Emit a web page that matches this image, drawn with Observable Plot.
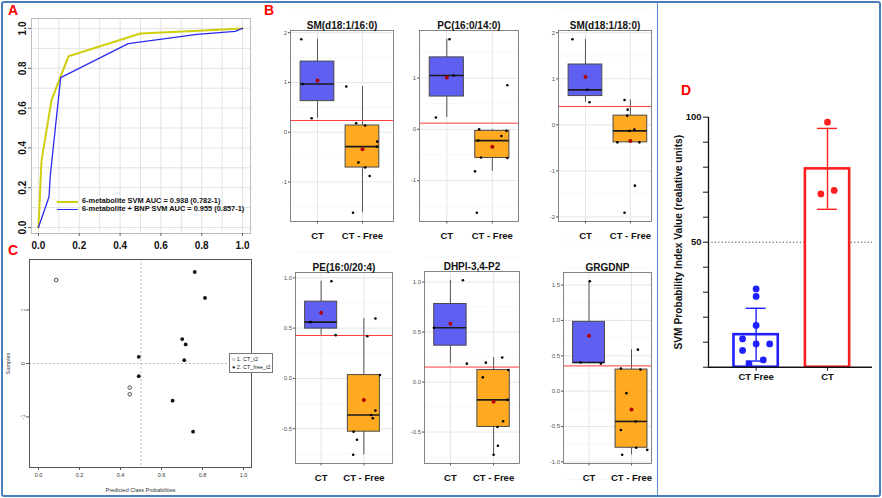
<!DOCTYPE html>
<html><head><meta charset="utf-8">
<script src="https://cdn.jsdelivr.net/npm/d3@7"></script>
<script src="https://cdn.jsdelivr.net/npm/@observablehq/plot@0.6"></script>
<style>
body{margin:0;background:#fff;font-family:"Liberation Sans",Arial,sans-serif;}
#fig{position:relative;width:882px;height:498px;overflow:hidden;background:#fff;}
.plbl{position:absolute;color:#ff0000;font-weight:bold;font-size:14px;line-height:14px;font-family:"Liberation Sans",Arial,sans-serif;}
.leg{position:absolute;font-weight:bold;font-size:7.4px;line-height:8px;white-space:nowrap;color:#111;}
.legline{position:absolute;height:0;}
.cleg{position:absolute;border:1px solid #777;background:#fff;font-size:5.5px;line-height:8px;padding:1px 2px;white-space:nowrap;color:#222;}
</style></head><body><div id="fig"></div>
<script>
// ---------- Panel A : ROC curves ----------
const rocModels = ["6-metabolite SVM AUC = 0.938 (0.782-1)", "6-metabolite + BNP SVM AUC = 0.955 (0.857-1)"];
const rocFpr6 = [0, 0.015, 0.064, 0.147, 0.5, 0.81, 1];
const rocTpr6 = [0, 0.336, 0.64, 0.86, 0.975, 0.99, 1];
const rocFprBnp = [0, 0.052, 0.058, 0.109, 0.44, 0.777, 0.964, 1];
const rocTprBnp = [0, 0.155, 0.26, 0.753, 0.924, 0.97, 0.985, 1];
const aTicks = [0, 0.2, 0.4, 0.6, 0.8, 1.0];
const aGrid = [0, 0.1, 0.2, 0.3, 0.4, 0.5, 0.6, 0.7, 0.8, 0.9, 1.0];

// ---------- Panel B : box plots ----------
const metabolites = ["SM(d18:1/16:0)", "PC(16:0/14:0)", "SM(d18:1/18:0)", "PE(16:0/20:4)", "DHPI-3,4-P2", "GRGDNP"];
const boxGroups = ["CT", "CT - Free"];
const ctValues = [
  [1.87, 0.97, 0.28],
  [1.76, 1.05, 0.23],
  [1.86, 0.76, 0.49],
  [0.967, 0.56, 0.43],
  [1.018, 0.543, 0.184],
  [1.555, 0.405, 0.39]
];
const ctJitter = [
  [-0.36, -0.33, -0.13],
  [0.06, 0.15, -0.24],
  [-0.29, 0.04, 0.09],
  [0.24, -0.25, 0.34],
  [0.29, -0.38, 0.38],
  [0.02, -0.2, 0.28]
];
const freeValues = [
  [0.92, 0.18, 0.135, -0.19, -0.29, -0.61, -0.71, -0.88, -1.62],
  [0.86, 0.0, -0.03, -0.13, -0.22, -0.55, -0.56, -0.82, -1.63],
  [0.54, 0.33, 0.2, -0.1, -0.13, -0.38, -0.38, -1.32, -1.91],
  [0.596, 0.42, 0.033, -0.32, -0.364, -0.397, -0.53, -0.61, -0.76],
  [0.245, 0.194, 0.12, 0.047, -0.178, -0.392, -0.449, -0.637, -0.727],
  [0.587, 0.32, 0.305, -0.028, -0.428, -0.55, -0.80, -0.83, -0.90]
];
const freeJitter = [
  [-0.36, -0.14, 0.06, 0.33, 0.32, -0.09, 0.06, 0.16, -0.21],
  [0.33, -0.29, 0.31, 0.2, -0.31, -0.25, 0.33, -0.38, -0.34],
  [-0.13, -0.06, -0.07, 0.09, -0.02, -0.29, 0.2, 0.1, -0.13],
  [0.27, 0.08, 0.375, 0.27, 0.17, 0.21, -0.24, -0.16, -0.25],
  [0.2, -0.18, 0.34, -0.25, 0.32, 0.22, 0.09, 0.1, 0.0],
  [0.15, -0.25, 0.21, -0.12, 0.1, -0.25, 0.11, 0.37, -0.22]
];
const thresholds = [0.236, 0.12, 0.40, 0.427, 0.15, 0.357];
const boxTicks = [
  [-1, 0, 1, 2],
  [-1, 0, 1],
  [-2, -1, 0, 1, 2],
  [-0.5, 0.0, 0.5, 1.0],
  [-0.5, 0.0, 0.5, 1.0],
  [-1.0, -0.5, 0.0, 0.5, 1.0, 1.5]
];

// ---------- Panel C : class probabilities ----------
const cClasses = ["1. CT_t2", "2. CT_free_t2"];
const cProb =   [0.086, 0.445, 0.445, 0.762, 0.812, 0.701, 0.718, 0.711, 0.489, 0.489, 0.654, 0.754];
const cSample = [1.56, -0.45, -0.575, 1.71, 1.225, 0.456, 0.356, 0.0625, 0.125, -0.2375, -0.694, -1.275];
const cClass =  [0, 0, 0, 1, 1, 1, 1, 1, 1, 1, 1, 1];
const cXTicks = [0, 0.2, 0.4, 0.6, 0.8, 1.0];
const cYTicks = [-1, 0, 1];

// ---------- Panel D : SVM probability index ----------
const dGroups = ["CT Free", "CT"];
const dCTFree = [31.3, 28.3, 16.7, 11.3, 9.3, 9.3, 6.7, 2.9, 1.3];
const dCTFreeJitter = [0, 0, 0, -0.19, 0, 0.19, -0.19, 0.1, -0.1];
const dCT = [98, 69.3, 70.7];
const dCTJitter = [0, -0.093, 0.093];
const dTicks = [0, 10, 20, 30, 40, 50, 60, 70, 80, 90, 100];
const dLabeled = [50, 100];
const dCutoff = 50;
const dYTitle = "SVM Probability Index Value (realative units)";

// ================= drawing =================
const fig = document.getElementById("fig");
const FONT = "'Liberation Sans', Arial, sans-serif";
function place(el, left, top) {
  el.style.position = "absolute";
  el.style.left = left + "px";
  el.style.top = top + "px";
  fig.appendChild(el);
}
function addDiv(cls, left, top, html, extra) {
  const d = document.createElement("div");
  d.className = cls;
  d.style.left = left + "px"; d.style.top = top + "px";
  d.innerHTML = html;
  if (extra) Object.assign(d.style, extra);
  fig.appendChild(d);
  return d;
}
const fmt1 = d => (d < 0 ? "-" : "") + Math.abs(d).toFixed(1);
const fmt0 = d => (d < 0 ? "-" : "") + Math.abs(d);

// ---- Panel A
const rocA = rocFpr6.map((x, i) => ({fpr: x, tpr: rocTpr6[i]}));
const rocB = rocFprBnp.map((x, i) => ({fpr: x, tpr: rocTprBnp[i]}));
const plotA = Plot.plot({
  width: 258, height: 256,
  marginLeft: 31, marginRight: 8, marginTop: 18, marginBottom: 23,
  x: {domain: [-0.034, 1.039]},
  y: {domain: [-0.03, 1.05]},
  style: {fontFamily: FONT, background: "transparent", color: "#111"},
  marks: [
    Plot.gridX(aGrid, {stroke: "#e2e2e2", strokeOpacity: 1}),
    Plot.gridY(aGrid, {stroke: "#e2e2e2", strokeOpacity: 1}),
    Plot.frame({stroke: "#bdbdbd"}),
    Plot.axisX({ticks: aTicks, tickFormat: fmt1, tickSize: 3, tickPadding: 5, fontSize: 10, fontWeight: "bold", label: null, stroke: "#666"}),
    Plot.axisY({ticks: aTicks, tickFormat: fmt1, tickSize: 3, tickPadding: 3, tickRotate: -90, fontSize: 10, fontWeight: "bold", label: null, stroke: "#666"}),
    Plot.line(rocA, {x: "fpr", y: "tpr", stroke: "#cfcf10", strokeWidth: 2}),
    Plot.line(rocB, {x: "fpr", y: "tpr", stroke: "#2a2af0", strokeWidth: 1.3})
  ]
});
place(plotA, 0, 0);
addDiv("legline", 57, 201, "", {width: "21px", borderTop: "2px solid #cfcf10"});
addDiv("legline", 57, 209, "", {width: "21px", borderTop: "1.5px solid #2a2af0"});
addDiv("leg", 82, 197, rocModels[0]);
addDiv("leg", 82, 205, rocModels[1]);

// ---- Panel C
const cData = cProb.map((p, i) => ({p, s: cSample[i], c: cClass[i]}));
const plotC = Plot.plot({
  width: 258, height: 258,
  marginLeft: 29, marginRight: 7, marginTop: 23, marginBottom: 27,
  x: {domain: [-0.044, 1.039]},
  y: {domain: [-1.944, 1.944]},
  style: {fontFamily: FONT, background: "transparent", color: "#333"},
  marks: [
    Plot.ruleX([0.5], {stroke: "#bbb", strokeDasharray: "2,2"}),
    Plot.ruleY([0], {stroke: "#bbb", strokeDasharray: "2,2"}),
    Plot.frame({stroke: "#555"}),
    Plot.axisX({ticks: cXTicks, tickFormat: fmt1, tickSize: 3, tickPadding: 3, fontSize: 5.5, label: null, stroke: "#555"}),
    Plot.axisY({ticks: cYTicks, tickFormat: fmt0, tickSize: 3, tickPadding: 2, tickRotate: -90, fontSize: 5.5, label: null, stroke: "#555"}),
    Plot.text(["Predicted Class Probabilities"], {frameAnchor: "bottom", dy: 24, fontSize: 5.5, fill: "#333"}),
    Plot.text(["Samples"], {frameAnchor: "left", textAnchor: "middle", dx: -21, rotate: -90, fontSize: 5.5, fill: "#333"}),
    Plot.dot(cData.filter(d => d.c === 0), {x: "p", y: "s", r: 1.8, stroke: "#222", strokeWidth: 0.8, fill: "white"}),
    Plot.dot(cData.filter(d => d.c === 1), {x: "p", y: "s", r: 1.9, fill: "#111", stroke: "none"})
  ]
});
place(plotC, 0, 236);
addDiv("cleg", 229, 353, "&#9675; " + cClasses[0] + "<br>&#9679; " + cClasses[1]);

// ---- Panel B
const boxLayout = [
  {L: 290, R: 393, T: 30, B: 221, xMax: 2.69},
  {L: 419, R: 518, T: 30, B: 221, xMax: 2.575},
  {L: 558, R: 651, T: 30, B: 221, xMax: 2.47},
  {L: 295, R: 392, T: 272, B: 463, xMax: 2.67},
  {L: 424, R: 519, T: 271, B: 463, xMax: 2.6},
  {L: 563, R: 651, T: 272, B: 463, xMax: 2.47}
];
const boxFill = ["#5f5ff2", "#ffaa20"];
function boxStats(vals, g) {
  const s = vals.slice().sort(d3.ascending);
  const q1 = d3.quantileSorted(s, 0.25), med = d3.quantileSorted(s, 0.5), q3 = d3.quantileSorted(s, 0.75);
  const iqr = q3 - q1;
  const lo = d3.min(s.filter(v => v >= q1 - 1.5 * iqr));
  const hi = d3.max(s.filter(v => v <= q3 + 1.5 * iqr));
  return {g, q1, med, q3, lo, hi, mean: d3.mean(s), fill: boxFill[g - 1]};
}
metabolites.forEach((name, i) => {
  const lay = boxLayout[i];
  const pts = [
    ...ctValues[i].map((v, j) => ({g: 1, v, j: ctJitter[i][j]})),
    ...freeValues[i].map((v, j) => ({g: 2, v, j: freeJitter[i][j]}))
  ];
  const stats = [boxStats(ctValues[i], 1), boxStats(freeValues[i], 2)];
  const ext = d3.extent(pts, p => p.v);
  const pad = (ext[1] - ext[0]) * 0.05;
  const ticks = boxTicks[i];
  const step = ticks[1] - ticks[0];
  const minor = ticks.map(t => t + step / 2).concat([ticks[0] - step / 2]);
  const dec = i >= 3;
  const mL = 28, mT = 24, mR = 2, mB = 26;
  const plot = Plot.plot({
    width: lay.R - lay.L + mL + mR,
    height: lay.B - lay.T + mT + mB,
    marginLeft: mL, marginRight: mR, marginTop: mT, marginBottom: mB,
    x: {domain: [0.4, lay.xMax]},
    y: {domain: [ext[0] - pad, ext[1] + pad]},
    color: {type: "identity"},
    style: {fontFamily: FONT, background: "transparent", color: "#222", overflow: "visible"},
    marks: [
      Plot.gridY(minor, {stroke: "#f1f1f1", strokeOpacity: 1, strokeWidth: 0.6}),
      Plot.gridY(ticks, {stroke: "#e6e6e6", strokeOpacity: 1}),
      Plot.gridX([1, 2], {stroke: "#e6e6e6", strokeOpacity: 1}),
      Plot.ruleX(stats, {x: "g", y1: "lo", y2: "hi", stroke: "#555", strokeWidth: 1}),
      Plot.rect(stats, {x1: d => d.g - 0.375, x2: d => d.g + 0.375, y1: "q1", y2: "q3", fill: "fill", stroke: "#4a4a4a", strokeWidth: 1}),
      Plot.ruleY(stats, {y: "med", x1: d => d.g - 0.375, x2: d => d.g + 0.375, stroke: "#1a1a1a", strokeWidth: 1.6}),
      Plot.ruleY([thresholds[i]], {stroke: "#ff3b3b", strokeWidth: 1}),
      Plot.dot(pts, {x: d => d.g + d.j, y: "v", r: 1.3, fill: "#000", stroke: "none"}),
      Plot.dot(stats, {x: "g", y: "mean", r: 2, fill: "#b00000", stroke: "none"}),
      Plot.frame({stroke: "#666", strokeWidth: 0.8}),
      Plot.axisY({ticks, tickFormat: dec ? fmt1 : fmt0, tickSize: 2, tickPadding: 1.5, fontSize: 6, fill: "#555", stroke: "#555", label: null}),
      Plot.axisX({ticks: [1, 2], tickFormat: d => boxGroups[d - 1], tickSize: 2.5, tickPadding: 8, fontSize: 9.5, fontWeight: "bold", fill: "#111", stroke: "#555", label: null}),
      Plot.text([name], {frameAnchor: "top", dy: -2, lineAnchor: "bottom", fontSize: 10, fontWeight: "bold", fill: "#111"})
    ]
  });
  place(plot, lay.L - mL, lay.T - mT);
});

// ---- Panel D
const dPts = [
  ...dCTFree.map((v, j) => ({g: 1, v, j: dCTFreeJitter[j]})),
  ...dCT.map((v, j) => ({g: 2, v, j: dCTJitter[j]}))
];
const dColors = ["#1f1fff", "#ff1f1f"];
const dStats = [dCTFree, dCT].map((vals, k) => {
  const m = d3.mean(vals), sd = d3.deviation(vals);
  return {g: k + 1, mean: m, lo: m - sd, hi: m + sd, color: dColors[k]};
});
const dX = [0.333, 2.63];
const dY = [0, 100];
const plotD = Plot.plot({
  width: 220, height: 310,
  marginLeft: 50, marginRight: 6, marginTop: 36.7, marginBottom: 23.3,
  x: {domain: dX},
  y: {domain: dY},
  color: {type: "identity"},
  style: {fontFamily: FONT, background: "transparent", color: "#111", overflow: "visible"},
  marks: [
    Plot.ruleY([dCutoff], {stroke: "#444", strokeDasharray: "1.2,2.2", strokeWidth: 1}),
    Plot.rect(dStats, {x1: d => d.g - 0.31, x2: d => d.g + 0.31, y1: 0, y2: "mean", fill: "white", stroke: "color", strokeWidth: 2.6}),
    Plot.ruleX(dStats, {x: "g", y1: "lo", y2: "hi", stroke: "color", strokeWidth: 1.4}),
    Plot.ruleY(dStats, {y: "hi", x1: d => d.g - 0.14, x2: d => d.g + 0.14, stroke: "color", strokeWidth: 1.4}),
    Plot.ruleY(dStats, {y: "lo", x1: d => d.g - 0.14, x2: d => d.g + 0.14, stroke: "color", strokeWidth: 1.4}),
    Plot.dot(dPts, {x: d => d.g + d.j, y: "v", r: 3.4, fill: d => dColors[d.g - 1], stroke: "none"}),
    Plot.ruleX([dX[0]], {y1: dY[0], y2: dY[1], stroke: "#111", strokeWidth: 1.3}),
    Plot.ruleY([dY[0]], {stroke: "#111", strokeWidth: 1.5}),
    Plot.axisY({ticks: dTicks, tickFormat: d => dLabeled.includes(d) ? String(d) : "", tickSize: 5, tickPadding: 2, fontSize: 9.5, fontWeight: "bold", stroke: "#111", label: null}),
    Plot.axisX({ticks: [1, 2], tickFormat: d => dGroups[d - 1], tickSize: 4, tickPadding: 2, fontSize: 9.5, fontWeight: "bold", stroke: "#111", label: null}),
    Plot.text([dYTitle], {frameAnchor: "left", textAnchor: "middle", dx: -30, rotate: -90, fontSize: 10.2, fontWeight: "bold", fill: "#111"})
  ]
});
place(plotD, 658, 80);

// ---- panel letters and frame
addDiv("plbl", 8, 3, "A");
addDiv("plbl", 264, 3, "B");
addDiv("plbl", 8, 243, "C");
addDiv("plbl", 681, 83, "D");
addDiv("", 657, 2, "", {position: "absolute", width: "0px", height: "494px", borderLeft: "1px solid #5b8bd0"});
addDiv("", 1, 1, "", {position: "absolute", width: "876px", height: "492px", border: "2px solid #4a7ebb", borderRadius: "3px"});
</script>
</body></html>
